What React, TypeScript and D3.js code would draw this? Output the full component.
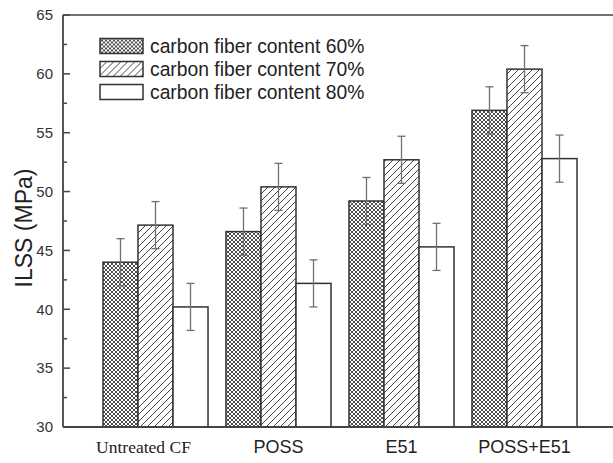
import React from "react";
import * as d3 from "d3";

const categories = ["Untreated CF", "POSS", "E51", "POSS+E51"];
const seriesNames = ["carbon fiber content 60%", "carbon fiber content 70%", "carbon fiber content 80%"];
const content60 = [44.0, 46.6, 49.2, 56.9];
const content70 = [47.15, 50.4, 52.7, 60.4];
const content80 = [40.2, 42.2, 45.3, 52.8];
const err60 = [2.0, 2.0, 2.0, 2.0];
const err70 = [2.0, 2.0, 2.0, 2.0];
const err80 = [2.0, 2.0, 2.0, 2.0];
const yTicks = [30, 35, 40, 45, 50, 55, 60, 65];
const yMinorTicks = [32.5, 37.5, 42.5, 47.5, 52.5, 57.5, 62.5];

const W = 613;
const H = 463;
const axisX = 63;
const top = 15;
const bottom = 427;

export default function App() {
  const y = d3.scaleLinear().domain([30, 65]).range([bottom, top]);
  const x = d3.scaleBand<string>().domain(categories).range([axisX, 617]).paddingInner(0.146).paddingOuter(0.325);
  const sub = d3.scaleBand<number>().domain([0, 1, 2]).range([0, x.bandwidth()]);
  const series = [
    { vals: content60, errs: err60, fill: "url(#cross)" },
    { vals: content70, errs: err70, fill: "url(#hatch)" },
    { vals: content80, errs: err80, fill: "#fff" },
  ];
  const dark = "#333";
  const errColor = "#707070";
  return (
    <div style={{ position: "fixed", left: 0, top: 0 }}>
      <svg width={W} height={H} style={{ display: "block", background: "#fff" }} fontFamily="'Liberation Sans', Arial, sans-serif">
        <defs>
          <pattern id="cross" patternUnits="userSpaceOnUse" width="4" height="4">
            <rect width="4" height="4" fill="#fff" />
            <path d="M0,0 L4,4 M4,0 L0,4 M-1,3 L1,5 M3,-1 L5,1 M3,5 L5,3 M-1,1 L1,-1" stroke="#3a3a3a" strokeWidth="0.9" />
          </pattern>
          <pattern id="hatch" patternUnits="userSpaceOnUse" width="7" height="7">
            <rect width="7" height="7" fill="#fff" />
            <path d="M0,7 L7,0 M-2,2 L2,-2 M5,9 L9,5" stroke="#444" strokeWidth="1" />
          </pattern>
        </defs>
        {/* bars */}
        {series.map((s, si) =>
          categories.map((c, ci) => {
            const bx = (x(c) as number) + (sub(si) as number);
            const bw = sub.bandwidth();
            const v = s.vals[ci];
            return (
              <rect key={`b${si}-${ci}`} x={bx} y={y(v)} width={bw} height={bottom - y(v)} fill={s.fill} stroke={dark} strokeWidth={1.5} />
            );
          })
        )}
        {/* error bars */}
        {series.map((s, si) =>
          categories.map((c, ci) => {
            const cx = (x(c) as number) + (sub(si) as number) + sub.bandwidth() / 2;
            const v = s.vals[ci];
            const e = s.errs[ci];
            return (
              <g key={`e${si}-${ci}`} stroke={errColor} strokeWidth={1.3}>
                <line x1={cx} x2={cx} y1={y(v + e)} y2={y(v - e)} />
                <line x1={cx - 4} x2={cx + 4} y1={y(v + e)} y2={y(v + e)} />
                <line x1={cx - 4} x2={cx + 4} y1={y(v - e)} y2={y(v - e)} />
              </g>
            );
          })
        )}
        {/* axes */}
        <line x1={axisX} x2={W} y1={bottom} y2={bottom} stroke="#444" strokeWidth={1.8} />
        <line x1={axisX} x2={W} y1={top} y2={top} stroke="#444" strokeWidth={1.3} />
        <line x1={axisX} x2={axisX} y1={top} y2={bottom} stroke="#444" strokeWidth={1.8} />
        {yTicks.map((t) => (
          <g key={`t${t}`}>
            <line x1={axisX} x2={axisX + 7} y1={y(t)} y2={y(t)} stroke="#444" strokeWidth={1.5} />
            <text x={axisX - 10} y={y(t)} dy="0.35em" textAnchor="end" fontSize={15} fill="#333">{t}</text>
          </g>
        ))}
        {yMinorTicks.map((t) => (
          <line key={`m${t}`} x1={axisX} x2={axisX + 4} y1={y(t)} y2={y(t)} stroke="#444" strokeWidth={1.5} />
        ))}
        {/* x labels */}
        {categories.map((c, ci) => (
          <text
            key={`xl${c}`}
            x={(x(c) as number) + x.bandwidth() / 2 + (ci === 0 ? -12 : 0)}
            y={453}
            textAnchor="middle"
            fontSize={ci === 0 ? 17.5 : 18}
            fontFamily={ci === 0 ? "'Liberation Serif', 'Times New Roman', serif" : undefined}
            fill="#222"
          >
            {c}
          </text>
        ))}
        {/* y title */}
        <text transform={`translate(32,${228}) rotate(-90)`} textAnchor="middle" fontSize={23} fill="#222">ILSS (MPa)</text>
        {/* legend */}
        {seriesNames.map((n, i) => (
          <g key={`lg${i}`} transform={`translate(100,${38.5 + i * 23})`}>
            <rect x={0} y={0} width={43} height={15} fill={series[i].fill} stroke={dark} strokeWidth={1.5} />
            <text x={50} y={7.5} dy="0.35em" fontSize={19.3} fill="#222">{n}</text>
          </g>
        ))}
      </svg>
    </div>
  );
}
